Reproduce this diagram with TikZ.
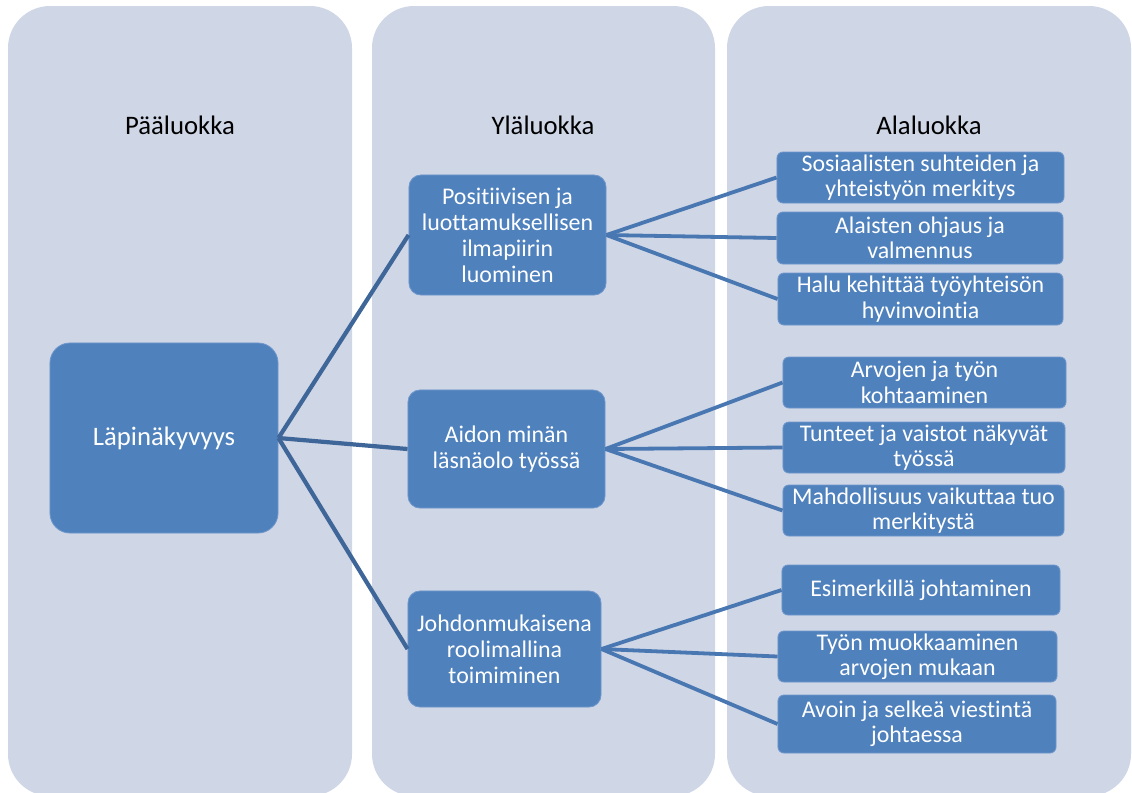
\documentclass[tikz,border=0pt]{standalone}
\usepackage{fontspec}
\setmainfont{Carlito}[RawFeature=-liga]
\definecolor{panelfill}{RGB}{207,214,230}
\definecolor{boxfill}{RGB}{79,129,189}
\definecolor{boxline}{RGB}{112,151,203}
\definecolor{linkdark}{RGB}{62,102,152}
\definecolor{linklight}{RGB}{73,119,178}
\tikzset{
  panel/.style={fill=panelfill, rounded corners=1.05cm},
  header/.style={font=\fontsize{19}{22}\selectfont, text=black},
  catbox/.style={draw=boxline, line width=0.6pt, fill=boxfill, text=white, align=center,
    font=\fontsize{17}{18.5}\selectfont, inner sep=1pt},
  mainbox/.style={catbox, rounded corners=0.5cm, minimum width=5.7cm, minimum height=4.75cm,
    font=\fontsize{19}{22}\selectfont},
  midbox/.style={catbox, rounded corners=0.3cm},
  subbox/.style={catbox, rounded corners=0.15cm, font=\fontsize{17}{18}\selectfont},
  linkA/.style={draw=linkdark, line width=3pt},
  linkB/.style={draw=linklight, line width=2.7pt}
}
\begin{document}
\begin{tikzpicture}[x=0.025cm, y=-0.025cm]
    \useasboundingbox (0,0) rectangle (1132,792);

    % Columns
    \fill[panel] (8,6) rectangle (352,796);
    \fill[panel] (372,6) rectangle (715,796);
    \fill[panel] (727,6) rectangle (1131,796);

    % Column titles
    \node[header] (hmain) at (180,125) {Pääluokka};
    \node[header] (hupper) at (543,125) {Yläluokka};
    \node[header] (hlower) at (929,125) {Alaluokka};

    % Main class
    \node[mainbox] (main) at (164,438) {Läpinäkyvyys};

    % Upper classes
    \node[midbox, minimum width=4.925cm, minimum height=3cm] (pos) at (507.5,235)
        {Positiivisen ja\\luottamuksellisen\\ilmapiirin\\luominen};
    \node[midbox, minimum width=4.925cm, minimum height=2.95cm] (aid) at (506.5,449)
        {Aidon minän\\läsnäolo työssä};
    \node[midbox, minimum width=4.825cm, minimum height=2.9cm] (joh) at (504.5,649)
        {Johdonmukaisena\\roolimallina\\toimiminen};

    % Lower classes
    \node[subbox, minimum width=7.175cm, minimum height=1.275cm] (pos1) at (920.5,177.5)
        {Sosiaalisten suhteiden ja\\yhteistyön merkitys};
    \node[subbox, minimum width=7.15cm, minimum height=1.3cm] (pos2) at (920,238)
        {Alaisten ohjaus ja\\valmennus};
    \node[subbox, minimum width=7.125cm, minimum height=1.3cm] (pos3) at (920.5,299)
        {Halu kehittää työyhteisön\\hyvinvointia};
    \node[subbox, minimum width=7.075cm, minimum height=1.275cm] (aid1) at (924.5,382.5)
        {Arvojen ja työn\\kohtaaminen};
    \node[subbox, minimum width=7.05cm, minimum height=1.275cm] (aid2) at (924,447.5)
        {Tunteet ja vaistot näkyvät\\työssä};
    \node[subbox, minimum width=7.025cm, minimum height=1.275cm] (aid3) at (923.5,510.5)
        {Mahdollisuus vaikuttaa tuo\\merkitystä};
    \node[subbox, minimum width=6.95cm, minimum height=1.25cm] (joh1) at (921,590)
        {Esimerkillä johtaminen};
    \node[subbox, minimum width=6.975cm, minimum height=1.275cm] (joh2) at (917.5,656.5)
        {Työn muokkaaminen\\arvojen mukaan};
    \node[subbox, minimum width=6.95cm, minimum height=1.45cm] (joh3) at (917,724)
        {Avoin ja selkeä viestintä\\johtaessa};

    % Connectors
    \foreach \child in {pos,aid,joh}
        \draw[linkA] (main.east) -- (\child.west);
    \foreach \parent in {pos,aid,joh}
        \foreach \k in {1,2,3}
            \draw[linkB] (\parent.east) -- (\parent\k.west);
\end{tikzpicture}
\end{document}
